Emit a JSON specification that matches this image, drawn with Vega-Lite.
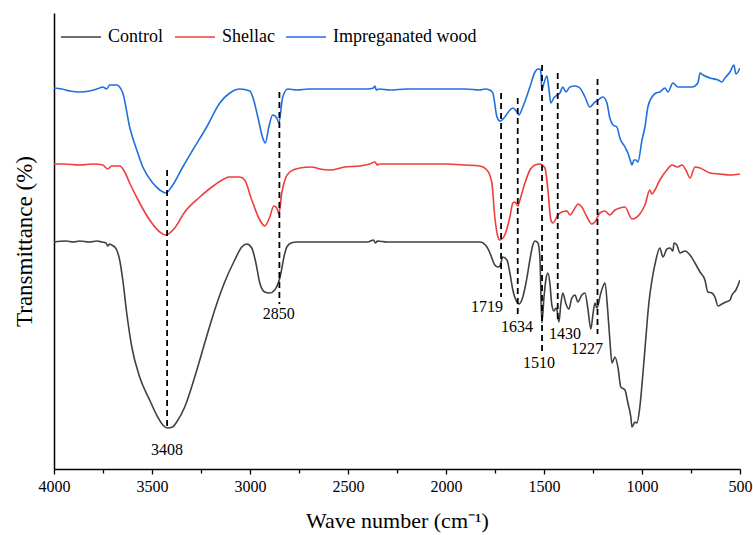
{
  "$schema": "https://vega.github.io/schema/vega-lite/v6.json",
  "width": 686,
  "height": 456,
  "autosize": {"type": "none"},
  "padding": {"left": 54, "top": 13, "right": 13, "bottom": 66},
  "background": "white",
  "config": {"view": {"stroke": null}, "font": "Liberation Serif"},
  "datasets": {
    "spectra": [
      {"series":"Control","wn":4000,"T":227},{"series":"Control","wn":3940,"T":228},{"series":"Control","wn":3900,"T":227},{"series":"Control","wn":3869,"T":228},{"series":"Control","wn":3820,"T":227},{"series":"Control","wn":3780,"T":228},{"series":"Control","wn":3756,"T":227},{"series":"Control","wn":3735,"T":226},{"series":"Control","wn":3726,"T":223},{"series":"Control","wn":3716,"T":225},{"series":"Control","wn":3706,"T":224},{"series":"Control","wn":3690,"T":222},{"series":"Control","wn":3680,"T":219},{"series":"Control","wn":3665,"T":209},{"series":"Control","wn":3649,"T":189},{"series":"Control","wn":3629,"T":156},{"series":"Control","wn":3603,"T":122},{"series":"Control","wn":3563,"T":92},{"series":"Control","wn":3512,"T":69},{"series":"Control","wn":3471,"T":52},{"series":"Control","wn":3445,"T":44},{"series":"Control","wn":3420,"T":41},{"series":"Control","wn":3395,"T":42},{"series":"Control","wn":3374,"T":47},{"series":"Control","wn":3333,"T":62},{"series":"Control","wn":3282,"T":92},{"series":"Control","wn":3231,"T":126},{"series":"Control","wn":3180,"T":159},{"series":"Control","wn":3129,"T":187},{"series":"Control","wn":3078,"T":209},{"series":"Control","wn":3042,"T":222},{"series":"Control","wn":3016,"T":225},{"series":"Control","wn":2991,"T":221},{"series":"Control","wn":2970,"T":206},{"series":"Control","wn":2950,"T":186},{"series":"Control","wn":2925,"T":177},{"series":"Control","wn":2899,"T":176},{"series":"Control","wn":2874,"T":179},{"series":"Control","wn":2848,"T":191},{"series":"Control","wn":2822,"T":216},{"series":"Control","wn":2812,"T":222},{"series":"Control","wn":2790,"T":226},{"series":"Control","wn":2761,"T":227},{"series":"Control","wn":2650,"T":227},{"series":"Control","wn":2500,"T":227},{"series":"Control","wn":2400,"T":227},{"series":"Control","wn":2370,"T":229},{"series":"Control","wn":2360,"T":226},{"series":"Control","wn":2350,"T":228},{"series":"Control","wn":2300,"T":227},{"series":"Control","wn":2200,"T":227},{"series":"Control","wn":2100,"T":227},{"series":"Control","wn":2000,"T":227},{"series":"Control","wn":1900,"T":227},{"series":"Control","wn":1827,"T":227},{"series":"Control","wn":1791,"T":222},{"series":"Control","wn":1776,"T":216},{"series":"Control","wn":1751,"T":204},{"series":"Control","wn":1735,"T":202},{"series":"Control","wn":1725,"T":203},{"series":"Control","wn":1710,"T":212},{"series":"Control","wn":1689,"T":209},{"series":"Control","wn":1674,"T":196},{"series":"Control","wn":1659,"T":179},{"series":"Control","wn":1638,"T":167},{"series":"Control","wn":1628,"T":165},{"series":"Control","wn":1608,"T":172},{"series":"Control","wn":1592,"T":186},{"series":"Control","wn":1572,"T":209},{"series":"Control","wn":1557,"T":224},{"series":"Control","wn":1546,"T":228},{"series":"Control","wn":1531,"T":226},{"series":"Control","wn":1521,"T":212},{"series":"Control","wn":1511,"T":146},{"series":"Control","wn":1500,"T":172},{"series":"Control","wn":1490,"T":190},{"series":"Control","wn":1480,"T":196},{"series":"Control","wn":1470,"T":186},{"series":"Control","wn":1460,"T":164},{"series":"Control","wn":1449,"T":158},{"series":"Control","wn":1439,"T":161},{"series":"Control","wn":1434,"T":159},{"series":"Control","wn":1424,"T":147},{"series":"Control","wn":1414,"T":165},{"series":"Control","wn":1404,"T":176},{"series":"Control","wn":1388,"T":165},{"series":"Control","wn":1373,"T":160},{"series":"Control","wn":1358,"T":171},{"series":"Control","wn":1342,"T":174},{"series":"Control","wn":1327,"T":167},{"series":"Control","wn":1307,"T":174},{"series":"Control","wn":1291,"T":176},{"series":"Control","wn":1276,"T":160},{"series":"Control","wn":1261,"T":140},{"series":"Control","wn":1250,"T":155},{"series":"Control","wn":1240,"T":166},{"series":"Control","wn":1230,"T":161},{"series":"Control","wn":1210,"T":176},{"series":"Control","wn":1189,"T":186},{"series":"Control","wn":1174,"T":156},{"series":"Control","wn":1164,"T":129},{"series":"Control","wn":1153,"T":106},{"series":"Control","wn":1138,"T":112},{"series":"Control","wn":1123,"T":102},{"series":"Control","wn":1108,"T":82},{"series":"Control","wn":1087,"T":79},{"series":"Control","wn":1072,"T":66},{"series":"Control","wn":1057,"T":52},{"series":"Control","wn":1051,"T":42},{"series":"Control","wn":1036,"T":47},{"series":"Control","wn":1026,"T":46},{"series":"Control","wn":1011,"T":62},{"series":"Control","wn":995,"T":96},{"series":"Control","wn":980,"T":132},{"series":"Control","wn":965,"T":166},{"series":"Control","wn":949,"T":189},{"series":"Control","wn":929,"T":209},{"series":"Control","wn":909,"T":221},{"series":"Control","wn":893,"T":212},{"series":"Control","wn":873,"T":220},{"series":"Control","wn":857,"T":221},{"series":"Control","wn":842,"T":218},{"series":"Control","wn":837,"T":226},{"series":"Control","wn":822,"T":224},{"series":"Control","wn":806,"T":216},{"series":"Control","wn":781,"T":218},{"series":"Control","wn":755,"T":214},{"series":"Control","wn":730,"T":206},{"series":"Control","wn":704,"T":197},{"series":"Control","wn":679,"T":189},{"series":"Control","wn":664,"T":177},{"series":"Control","wn":643,"T":176},{"series":"Control","wn":628,"T":172},{"series":"Control","wn":612,"T":163},{"series":"Control","wn":592,"T":165},{"series":"Control","wn":572,"T":167},{"series":"Control","wn":551,"T":169},{"series":"Control","wn":541,"T":174},{"series":"Control","wn":521,"T":179},{"series":"Control","wn":500,"T":189},

      {"series":"Shellac","wn":4000,"T":305},{"series":"Shellac","wn":3950,"T":305},{"series":"Shellac","wn":3869,"T":304},{"series":"Shellac","wn":3800,"T":305},{"series":"Shellac","wn":3751,"T":304},{"series":"Shellac","wn":3726,"T":300},{"series":"Shellac","wn":3706,"T":303},{"series":"Shellac","wn":3665,"T":303},{"series":"Shellac","wn":3639,"T":297},{"series":"Shellac","wn":3614,"T":286},{"series":"Shellac","wn":3563,"T":266},{"series":"Shellac","wn":3512,"T":249},{"series":"Shellac","wn":3460,"T":237},{"series":"Shellac","wn":3430,"T":234},{"series":"Shellac","wn":3384,"T":241},{"series":"Shellac","wn":3333,"T":257},{"series":"Shellac","wn":3256,"T":272},{"series":"Shellac","wn":3180,"T":284},{"series":"Shellac","wn":3103,"T":292},{"series":"Shellac","wn":3052,"T":292},{"series":"Shellac","wn":3027,"T":289},{"series":"Shellac","wn":2991,"T":269},{"series":"Shellac","wn":2950,"T":249},{"series":"Shellac","wn":2925,"T":243},{"series":"Shellac","wn":2899,"T":252},{"series":"Shellac","wn":2879,"T":263},{"series":"Shellac","wn":2863,"T":261},{"series":"Shellac","wn":2853,"T":255},{"series":"Shellac","wn":2838,"T":276},{"series":"Shellac","wn":2822,"T":289},{"series":"Shellac","wn":2797,"T":297},{"series":"Shellac","wn":2746,"T":301},{"series":"Shellac","wn":2685,"T":302},{"series":"Shellac","wn":2644,"T":300},{"series":"Shellac","wn":2593,"T":299},{"series":"Shellac","wn":2516,"T":302},{"series":"Shellac","wn":2440,"T":303},{"series":"Shellac","wn":2389,"T":305},{"series":"Shellac","wn":2363,"T":307},{"series":"Shellac","wn":2350,"T":304},{"series":"Shellac","wn":2340,"T":305},{"series":"Shellac","wn":2287,"T":305},{"series":"Shellac","wn":2200,"T":305},{"series":"Shellac","wn":2100,"T":305},{"series":"Shellac","wn":2000,"T":305},{"series":"Shellac","wn":1900,"T":304},{"series":"Shellac","wn":1827,"T":303},{"series":"Shellac","wn":1791,"T":299},{"series":"Shellac","wn":1766,"T":286},{"series":"Shellac","wn":1751,"T":252},{"series":"Shellac","wn":1735,"T":232},{"series":"Shellac","wn":1725,"T":229},{"series":"Shellac","wn":1700,"T":234},{"series":"Shellac","wn":1674,"T":252},{"series":"Shellac","wn":1659,"T":266},{"series":"Shellac","wn":1649,"T":267},{"series":"Shellac","wn":1633,"T":263},{"series":"Shellac","wn":1623,"T":269},{"series":"Shellac","wn":1597,"T":286},{"series":"Shellac","wn":1572,"T":299},{"series":"Shellac","wn":1546,"T":304},{"series":"Shellac","wn":1521,"T":305},{"series":"Shellac","wn":1495,"T":301},{"series":"Shellac","wn":1480,"T":279},{"series":"Shellac","wn":1465,"T":249},{"series":"Shellac","wn":1455,"T":246},{"series":"Shellac","wn":1429,"T":254},{"series":"Shellac","wn":1409,"T":257},{"series":"Shellac","wn":1383,"T":258},{"series":"Shellac","wn":1368,"T":254},{"series":"Shellac","wn":1342,"T":261},{"series":"Shellac","wn":1327,"T":265},{"series":"Shellac","wn":1307,"T":262},{"series":"Shellac","wn":1281,"T":252},{"series":"Shellac","wn":1256,"T":245},{"series":"Shellac","wn":1240,"T":247},{"series":"Shellac","wn":1215,"T":256},{"series":"Shellac","wn":1189,"T":258},{"series":"Shellac","wn":1164,"T":254},{"series":"Shellac","wn":1138,"T":259},{"series":"Shellac","wn":1113,"T":261},{"series":"Shellac","wn":1087,"T":262},{"series":"Shellac","wn":1051,"T":250},{"series":"Shellac","wn":1011,"T":255},{"series":"Shellac","wn":985,"T":264},{"series":"Shellac","wn":960,"T":279},{"series":"Shellac","wn":949,"T":275},{"series":"Shellac","wn":934,"T":279},{"series":"Shellac","wn":909,"T":289},{"series":"Shellac","wn":873,"T":299},{"series":"Shellac","wn":847,"T":304},{"series":"Shellac","wn":817,"T":302},{"series":"Shellac","wn":796,"T":304},{"series":"Shellac","wn":776,"T":299},{"series":"Shellac","wn":755,"T":291},{"series":"Shellac","wn":730,"T":302},{"series":"Shellac","wn":704,"T":301},{"series":"Shellac","wn":653,"T":296},{"series":"Shellac","wn":602,"T":295},{"series":"Shellac","wn":551,"T":294},{"series":"Shellac","wn":500,"T":295},

      {"series":"Impreganated wood","wn":4000,"T":381},{"series":"Impreganated wood","wn":3960,"T":380},{"series":"Impreganated wood","wn":3920,"T":378},{"series":"Impreganated wood","wn":3869,"T":377},{"series":"Impreganated wood","wn":3818,"T":378},{"series":"Impreganated wood","wn":3767,"T":381},{"series":"Impreganated wood","wn":3751,"T":382},{"series":"Impreganated wood","wn":3731,"T":380},{"series":"Impreganated wood","wn":3716,"T":384},{"series":"Impreganated wood","wn":3690,"T":384},{"series":"Impreganated wood","wn":3680,"T":384},{"series":"Impreganated wood","wn":3665,"T":382},{"series":"Impreganated wood","wn":3649,"T":376},{"series":"Impreganated wood","wn":3614,"T":342},{"series":"Impreganated wood","wn":3578,"T":319},{"series":"Impreganated wood","wn":3547,"T":302},{"series":"Impreganated wood","wn":3496,"T":286},{"series":"Impreganated wood","wn":3460,"T":279},{"series":"Impreganated wood","wn":3430,"T":276},{"series":"Impreganated wood","wn":3394,"T":284},{"series":"Impreganated wood","wn":3343,"T":302},{"series":"Impreganated wood","wn":3292,"T":319},{"series":"Impreganated wood","wn":3221,"T":342},{"series":"Impreganated wood","wn":3154,"T":366},{"series":"Impreganated wood","wn":3103,"T":376},{"series":"Impreganated wood","wn":3052,"T":380},{"series":"Impreganated wood","wn":3001,"T":378},{"series":"Impreganated wood","wn":2986,"T":372},{"series":"Impreganated wood","wn":2960,"T":352},{"series":"Impreganated wood","wn":2935,"T":331},{"series":"Impreganated wood","wn":2922,"T":326},{"series":"Impreganated wood","wn":2904,"T":342},{"series":"Impreganated wood","wn":2884,"T":354},{"series":"Impreganated wood","wn":2863,"T":351},{"series":"Impreganated wood","wn":2853,"T":346},{"series":"Impreganated wood","wn":2833,"T":372},{"series":"Impreganated wood","wn":2807,"T":380},{"series":"Impreganated wood","wn":2761,"T":379},{"series":"Impreganated wood","wn":2700,"T":380},{"series":"Impreganated wood","wn":2600,"T":380},{"series":"Impreganated wood","wn":2500,"T":380},{"series":"Impreganated wood","wn":2400,"T":380},{"series":"Impreganated wood","wn":2370,"T":381},{"series":"Impreganated wood","wn":2363,"T":383},{"series":"Impreganated wood","wn":2355,"T":379},{"series":"Impreganated wood","wn":2340,"T":380},{"series":"Impreganated wood","wn":2287,"T":379},{"series":"Impreganated wood","wn":2200,"T":380},{"series":"Impreganated wood","wn":2100,"T":380},{"series":"Impreganated wood","wn":2000,"T":380},{"series":"Impreganated wood","wn":1900,"T":380},{"series":"Impreganated wood","wn":1827,"T":379},{"series":"Impreganated wood","wn":1802,"T":380},{"series":"Impreganated wood","wn":1776,"T":379},{"series":"Impreganated wood","wn":1761,"T":376},{"series":"Impreganated wood","wn":1740,"T":352},{"series":"Impreganated wood","wn":1725,"T":348},{"series":"Impreganated wood","wn":1700,"T":352},{"series":"Impreganated wood","wn":1674,"T":359},{"series":"Impreganated wood","wn":1659,"T":361},{"series":"Impreganated wood","wn":1638,"T":357},{"series":"Impreganated wood","wn":1628,"T":354},{"series":"Impreganated wood","wn":1608,"T":362},{"series":"Impreganated wood","wn":1572,"T":382},{"series":"Impreganated wood","wn":1546,"T":397},{"series":"Impreganated wood","wn":1531,"T":400},{"series":"Impreganated wood","wn":1521,"T":400},{"series":"Impreganated wood","wn":1516,"T":397},{"series":"Impreganated wood","wn":1511,"T":379},{"series":"Impreganated wood","wn":1500,"T":386},{"series":"Impreganated wood","wn":1485,"T":393},{"series":"Impreganated wood","wn":1475,"T":380},{"series":"Impreganated wood","wn":1465,"T":366},{"series":"Impreganated wood","wn":1450,"T":371},{"series":"Impreganated wood","wn":1434,"T":374},{"series":"Impreganated wood","wn":1419,"T":376},{"series":"Impreganated wood","wn":1404,"T":382},{"series":"Impreganated wood","wn":1388,"T":377},{"series":"Impreganated wood","wn":1368,"T":382},{"series":"Impreganated wood","wn":1342,"T":383},{"series":"Impreganated wood","wn":1317,"T":381},{"series":"Impreganated wood","wn":1291,"T":372},{"series":"Impreganated wood","wn":1266,"T":362},{"series":"Impreganated wood","wn":1240,"T":367},{"series":"Impreganated wood","wn":1225,"T":369},{"series":"Impreganated wood","wn":1199,"T":372},{"series":"Impreganated wood","wn":1179,"T":366},{"series":"Impreganated wood","wn":1164,"T":351},{"series":"Impreganated wood","wn":1148,"T":344},{"series":"Impreganated wood","wn":1128,"T":342},{"series":"Impreganated wood","wn":1113,"T":331},{"series":"Impreganated wood","wn":1087,"T":322},{"series":"Impreganated wood","wn":1072,"T":316},{"series":"Impreganated wood","wn":1057,"T":307},{"series":"Impreganated wood","wn":1051,"T":304},{"series":"Impreganated wood","wn":1041,"T":309},{"series":"Impreganated wood","wn":1031,"T":309},{"series":"Impreganated wood","wn":1021,"T":307},{"series":"Impreganated wood","wn":1000,"T":329},{"series":"Impreganated wood","wn":985,"T":342},{"series":"Impreganated wood","wn":970,"T":362},{"series":"Impreganated wood","wn":949,"T":372},{"series":"Impreganated wood","wn":929,"T":376},{"series":"Impreganated wood","wn":909,"T":377},{"series":"Impreganated wood","wn":883,"T":381},{"series":"Impreganated wood","wn":868,"T":377},{"series":"Impreganated wood","wn":842,"T":386},{"series":"Impreganated wood","wn":817,"T":382},{"series":"Impreganated wood","wn":781,"T":382},{"series":"Impreganated wood","wn":745,"T":382},{"series":"Impreganated wood","wn":715,"T":386},{"series":"Impreganated wood","wn":704,"T":396},{"series":"Impreganated wood","wn":689,"T":394},{"series":"Impreganated wood","wn":653,"T":391},{"series":"Impreganated wood","wn":612,"T":389},{"series":"Impreganated wood","wn":592,"T":387},{"series":"Impreganated wood","wn":577,"T":391},{"series":"Impreganated wood","wn":551,"T":397},{"series":"Impreganated wood","wn":531,"T":404},{"series":"Impreganated wood","wn":521,"T":395},{"series":"Impreganated wood","wn":500,"T":401}
    ],
    "peaks": [
      {"wn":3423,"top":299,"bottom":39},
      {"wn":2850,"top":377,"bottom":165},
      {"wn":1719,"top":376,"bottom":172},
      {"wn":1634,"top":371,"bottom":153},
      {"wn":1510,"top":404,"bottom":118},
      {"wn":1430,"top":396,"bottom":147},
      {"wn":1227,"top":390,"bottom":135}
    ],
    "labels": [
      {"lx":3423,"ly":19,"label":"3408"},
      {"lx":2853,"ly":155,"label":"2850"},
      {"lx":1791,"ly":162,"label":"1719"},
      {"lx":1638,"ly":142,"label":"1634"},
      {"lx":1526,"ly":106,"label":"1510"},
      {"lx":1393,"ly":135,"label":"1430"},
      {"lx":1281,"ly":120,"label":"1227"}
    ]
  },
  "layer": [
    {
      "data": {"name": "spectra"},
      "mark": {"type": "line", "strokeWidth": 1.6, "clip": true, "interpolate": "monotone"},
      "encoding": {
        "x": {
          "field": "wn", "type": "quantitative",
          "scale": {"domain": [500, 4000], "reverse": true, "nice": false, "zero": false},
          "axis": {
            "values": [4000, 3750, 3500, 3250, 3000, 2750, 2500, 2250, 2000, 1750, 1500, 1250, 1000, 750, 500],
            "format": "d",
            "labelExpr": "datum.value % 500 === 0 ? datum.label : ''",
            "tickSize": {"condition": {"test": "datum.value % 500 === 0", "value": 5}, "value": 4},
            "tickColor": "#000", "tickWidth": 1.3,
            "domainColor": "#000", "domainWidth": 1.5,
            "labelFont": "Liberation Serif", "labelFontSize": 16, "labelColor": "#000", "labelPadding": 4,
            "labelFlush": false, "labelOverlap": false,
            "grid": false,
            "title": "Wave number (cm⁻¹)", "titleFont": "Liberation Serif", "titleFontSize": 22,
            "titleFontWeight": "normal", "titleColor": "#000", "titlePadding": 16
          }
        },
        "y": {
          "field": "T", "type": "quantitative",
          "scale": {"domain": [0, 456], "nice": false, "zero": false},
          "axis": {
            "ticks": false, "labels": false, "grid": false,
            "domainColor": "#000", "domainWidth": 1.5,
            "title": "Transmittance (%)", "titleFont": "Liberation Serif", "titleFontSize": 23,
            "titleFontWeight": "normal", "titleColor": "#000", "titlePadding": 18
          }
        },
        "color": {
          "field": "series", "type": "nominal",
          "scale": {"domain": ["Control", "Shellac", "Impreganated wood"], "range": ["#404040", "#f03c3c", "#1f6fe0"]},
          "legend": {
            "orient": "none", "legendX": 6, "legendY": 3, "direction": "horizontal", "title": null,
            "symbolType": "stroke", "symbolSize": 1600, "symbolStrokeWidth": 1.6,
            "labelFont": "Liberation Serif", "labelFontSize": 18, "labelColor": "#000",
            "labelOffset": 6, "columnPadding": 7
          }
        }
      }
    },
    {
      "data": {"name": "peaks"},
      "mark": {"type": "rule", "strokeDash": [6, 4], "strokeWidth": 1.8, "color": "#000"},
      "encoding": {
        "x": {"field": "wn", "type": "quantitative", "title": "Wave number (cm⁻¹)"},
        "y": {"field": "top", "type": "quantitative", "title": "Transmittance (%)"},
        "y2": {"field": "bottom"}
      }
    },
    {
      "data": {"name": "labels"},
      "mark": {"type": "text", "font": "Liberation Serif", "fontSize": 16, "color": "#000", "align": "center", "baseline": "middle"},
      "encoding": {
        "x": {"field": "lx", "type": "quantitative", "title": "Wave number (cm⁻¹)"},
        "y": {"field": "ly", "type": "quantitative", "title": "Transmittance (%)"},
        "text": {"field": "label", "type": "nominal"}
      }
    }
  ]
}
